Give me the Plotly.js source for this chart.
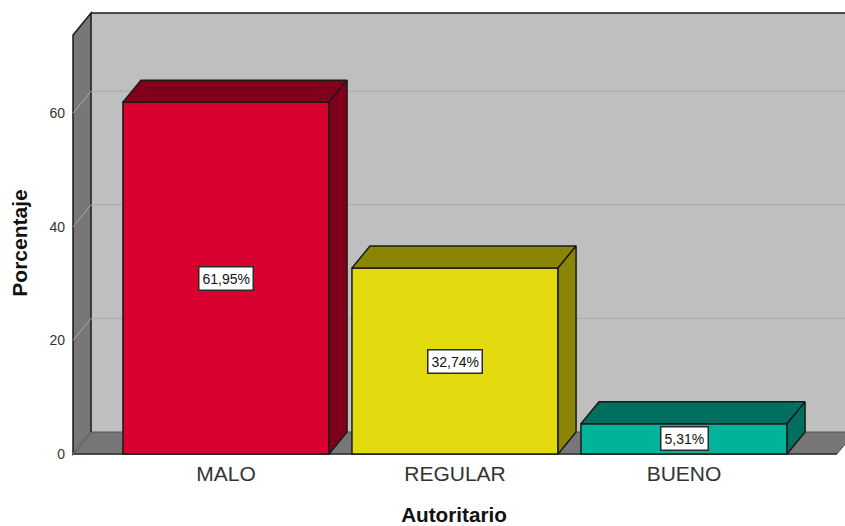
<!DOCTYPE html>
<html>
<head>
<meta charset="utf-8">
<script src="https://cdn.plot.ly/plotly-3.0.1.min.js"></script>
<style>html,body{margin:0;padding:0;background:#fff;overflow:hidden}#chart{width:845px;height:526px}</style>
</head>
<body>
<div id="chart"></div>
<script>
// Data
const categories = ['MALO', 'REGULAR', 'BUENO'];
const percentages = [61.95, 32.74, 5.31];
const valueLabels = ['61,95%', '32,74%', '5,31%'];
const yTickValues = [0, 20, 40, 60];

// Styles
const frontColors = ['#d8002f', '#e3d90f', '#00b49c'];
const depthColors = ['#80001c', '#8b8506', '#006f60'];
const edgeColor = '#1a1a1a';
const backWallColor = '#bfbfbf';
const sideWallColor = '#777777';
const gridColor = '#a9a9a9';
const fontFamily = '"Liberation Sans", Arial, sans-serif';

// Oblique projection and axes geometry, in axis units
const barWidth = 0.9;
const depthX = 0.0786;
const depthY = 3.87;
const xFrontLeft = -0.6681;
const xFrontRight = 2.6681;
const yFrontTop = 73.77;

const positions = categories.map((_, i) => i);

const poly = pts => 'M' + pts.map(p => p[0] + ',' + p[1]).join('L') + 'Z';
const line = (a, b) => ({type: 'line', layer: 'below', xref: 'x', yref: 'y',
  x0: a[0], y0: a[1], x1: b[0], y1: b[1], line: {color: gridColor, width: 1}});

const shapes = [
  {type: 'path', layer: 'below', xref: 'x', yref: 'y',
   path: poly([[xFrontLeft + depthX, depthY], [xFrontRight + depthX, depthY],
               [xFrontRight + depthX, yFrontTop + depthY], [xFrontLeft + depthX, yFrontTop + depthY]]),
   fillcolor: backWallColor, line: {width: 0}},
  {type: 'path', layer: 'below', xref: 'x', yref: 'y',
   path: poly([[xFrontLeft, 0], [xFrontRight, 0], [xFrontRight + depthX, depthY], [xFrontLeft + depthX, depthY]]),
   fillcolor: sideWallColor, line: {color: '#555555', width: 1}},
  {type: 'path', layer: 'below', xref: 'x', yref: 'y',
   path: poly([[xFrontLeft, 0], [xFrontLeft + depthX, depthY], [xFrontLeft + depthX, yFrontTop + depthY], [xFrontLeft, yFrontTop]]),
   fillcolor: sideWallColor, line: {color: edgeColor, width: 1.5}},
  {type: 'line', layer: 'below', xref: 'x', yref: 'y',
   x0: xFrontLeft + depthX, y0: yFrontTop + depthY, x1: xFrontRight + depthX, y1: yFrontTop + depthY,
   line: {color: edgeColor, width: 1.5}},
  {type: 'line', layer: 'below', xref: 'x', yref: 'y',
   x0: xFrontLeft, y0: 0, x1: xFrontRight, y1: 0, line: {color: '#333333', width: 1.5}}
];
yTickValues.filter(v => v > 0).forEach(v => {
  shapes.push(line([xFrontLeft, v], [xFrontLeft + depthX, v + depthY]));
  shapes.push(line([xFrontLeft + depthX, v + depthY], [xFrontRight + depthX, v + depthY]));
});
shapes.push(line([xFrontLeft, 0], [xFrontLeft + depthX, depthY]));

const faceTrace = (xs, ys, color) => ({
  type: 'scatter', mode: 'lines', x: xs, y: ys, fill: 'toself', fillcolor: color,
  line: {color: edgeColor, width: 1.5}, hoverinfo: 'skip', showlegend: false
});

const traces = [{
  type: 'bar', x: positions, y: percentages, width: barWidth,
  marker: {color: frontColors, line: {color: edgeColor, width: 1.5}},
  hoverinfo: 'x+y', showlegend: false
}];
positions.forEach((p, i) => {
  const l = p - barWidth / 2, r = p + barWidth / 2, v = percentages[i];
  traces.push(faceTrace([l, r, r + depthX, l + depthX, l], [v, v, v + depthY, v + depthY, v], depthColors[i]));
  traces.push(faceTrace([r, r + depthX, r + depthX, r, r], [0, depthY, v + depthY, v, 0], depthColors[i]));
});

const annotations = positions.map((p, i) => ({
  x: p, y: percentages[i] / 2, xref: 'x', yref: 'y', text: valueLabels[i], showarrow: false,
  font: {family: fontFamily, size: 14, color: '#111111'},
  bgcolor: '#ffffff', bordercolor: '#2a2a2a', borderwidth: 1.5, borderpad: 3
}));

const layout = {
  width: 845, height: 526,
  margin: {l: 63, r: 0, t: 8, b: 48, autoexpand: false},
  paper_bgcolor: '#ffffff', plot_bgcolor: 'rgba(0,0,0,0)',
  font: {family: fontFamily, color: '#222222'},
  showlegend: false, dragmode: false,
  xaxis: {
    range: [-0.7118, 2.703], anchor: 'free', position: 0.0426,
    showgrid: false, zeroline: false, showline: false, ticks: '',
    tickmode: 'array', tickvals: positions, ticktext: categories,
    tickfont: {family: fontFamily, size: 21, color: '#333333'},
    ticklabelstandoff: 1,
    title: {text: '<b>Autoritario</b>', font: {family: fontFamily, size: 20.7, color: '#111111'}, standoff: 25}
  },
  yaxis: {
    range: [-4.225, 78.52], anchor: 'free', position: 0.009,
    showgrid: false, zeroline: false, showline: false, ticks: '',
    tickmode: 'array', tickvals: yTickValues, ticktext: yTickValues.map(String),
    tickfont: {family: fontFamily, size: 14, color: '#333333'},
    ticklabelstandoff: 5,
    title: {text: '<b>Porcentaje</b>', font: {family: fontFamily, size: 21, color: '#111111'}, standoff: 15}
  },
  shapes, annotations
};

Plotly.newPlot('chart', traces, layout, {displayModeBar: false, responsive: false, staticPlot: true});
</script>
</body>
</html>
